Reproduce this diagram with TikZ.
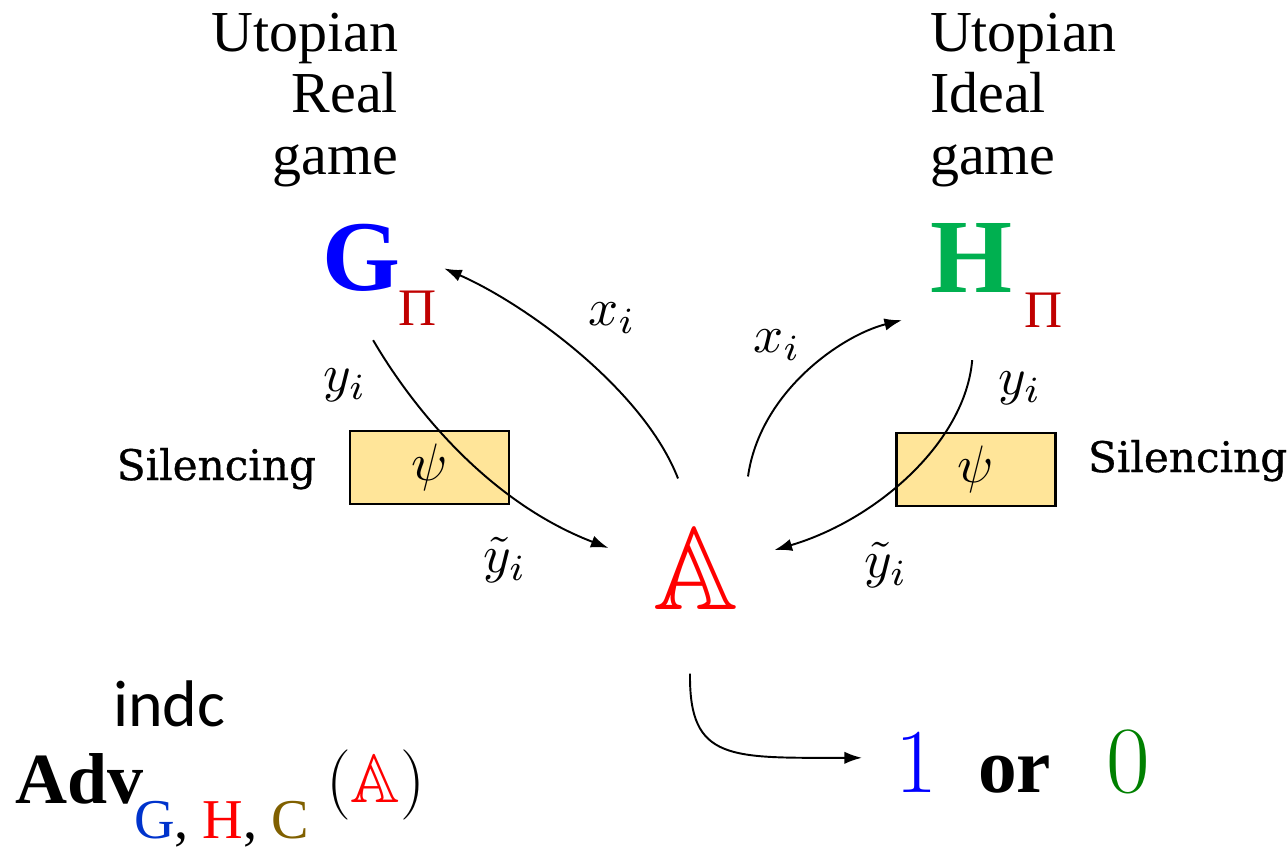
\documentclass[tikz,border=0pt]{standalone}
\usepackage{amssymb}
\usepackage{fontspec}
\newfontfamily\timesf{Liberation Serif}
\newfontfamily\dvserif[FakeBold=0.8]{DejaVu Serif}
\newfontfamily\carl{Carlito}
\usetikzlibrary{arrows.meta}
\definecolor{gblue}{RGB}{0,0,255}
\definecolor{pired}{RGB}{192,0,0}
\definecolor{hgreen}{RGB}{0,176,80}
\definecolor{zgreen}{RGB}{0,128,0}
\definecolor{boxfill}{RGB}{255,229,153}
\definecolor{subblue}{RGB}{0,51,204}
\definecolor{cbrown}{RGB}{128,96,0}
\newcommand{\bigmath}[2]{\scalebox{#1}{\fontsize{10}{12}\selectfont$#2$}}
\begin{document}
\begin{tikzpicture}[x=0.02cm,y=-0.02cm,
  every node/.style={inner sep=0pt, outer sep=0pt},
  title/.style={font=\timesf\fontsize{33}{35}\selectfont},
  silbox/.style={draw=black, line width=1.2pt, fill=boxfill, minimum width=3.18cm, minimum height=1.46cm},
  sil/.style={font=\dvserif\fontsize{24}{28}\selectfont},
  conn/.style={line width=1.1pt, -{Latex[length=10pt,width=7pt]}}
]
\useasboundingbox (0,0) rectangle (1287,849);

\node[title, align=right, anchor=north east] (real) at (398,13) {Utopian\\Real\\game};
\node[title, align=left, anchor=north west] (ideal) at (930,13) {Utopian\\Ideal\\game};

\node[anchor=base west] (gp) at (322,290) {\timesf\bfseries\fontsize{57}{57}\selectfont\color{gblue}G\hspace{-1pt}\raisebox{-20pt}{\mdseries\fontsize{30}{30}\selectfont\color{pired}Π}};
\node[anchor=base west] (hp) at (930,292) {\timesf\bfseries\fontsize{60}{60}\selectfont\color{hgreen}H\hspace{7pt}\raisebox{-20pt}{\mdseries\fontsize{30}{30}\selectfont\color{pired}Π}};

\node (A) at (696,569) {\color{red}\bigmath{6.7}{\mathbb{A}}};

\node[silbox] (psi1) at (429.5,467.5) {\bigmath{3}{\psi}};
\node[silbox] (psi2) at (976,469.5) {\bigmath{3}{\psi}};
\node[sil, anchor=base east] (sil1) at (316,480) {Silencing};
\node[sil, anchor=base west] (sil2) at (1088,472) {Silencing};

\node (x1) at (612,318) {\bigmath{3}{x_i}};
\node (x2) at (777,345) {\bigmath{3}{x_i}};
\node (y1) at (345,385) {\bigmath{3}{y_i}};
\node (y2) at (1020,388) {\bigmath{3}{y_i}};
\node (t1) at (505,560) {\bigmath{3}{\tilde{y}_i}};
\node (t2) at (886,565) {\bigmath{3}{\tilde{y}_i}};

\node[anchor=base west] (one) at (895,792) {\fontsize{52}{52}\selectfont\color{gblue}1};
\node[anchor=base west] (or) at (978,792) {\timesf\bfseries\fontsize{44}{44}\selectfont or};
\node[anchor=base west] (zero) at (1106,792) {\fontsize{54}{54}\selectfont\color{zgreen}0};

\node[anchor=base west] (indc) at (113,726) {\carl\fontsize{37.5}{37.5}\selectfont indc};
\node[anchor=base west] (adv) at (15,803) {\timesf\bfseries\fontsize{41}{41}\selectfont Adv};
\node[anchor=base west] (sub) at (134,838) {\timesf\fontsize{32}{32}\selectfont\color{subblue}G\color{black}, \color{red}H\color{black}, \color{cbrown}C};
\node[anchor=base west] (arg) at (326,802) {\fontsize{40}{40}\selectfont(\textcolor{red}{\bigmath{3.9}{\mathbb{A}}})};

\draw[conn] ([shift={(-18,-50)}]A.north) .. controls +(-35,-90) and +(80,35) .. ([shift={(8,-6)}]gp.east);
\draw[conn] ([shift={(52,-52)}]A.north) .. controls +(12,-85) and +(-60,15) .. ([shift={(-28,-7)}]hp.south west);
\draw[conn] ([shift={(-6,15)}]gp.south) .. controls +(35,60) and +(-125,-48) .. ([shift={(-45,-21)}]A.west);
\draw[conn] ([shift={(-24,33)}]hp.south) .. controls +(-7,82) and +(102,-30) .. ([shift={(36,-19)}]A.east);
\draw[conn] ([shift={(-6,64)}]A.south) .. controls +(-1,88) and +(-132,0) .. ([shift={(-33,-4)}]one.west);
\end{tikzpicture}
\end{document}
